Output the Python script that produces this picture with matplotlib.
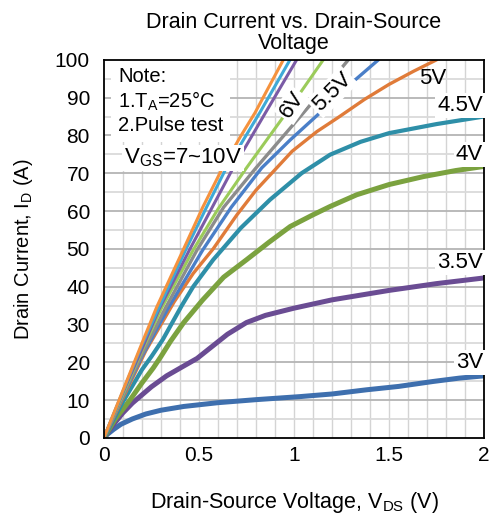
import numpy as np
import matplotlib
matplotlib.use("Agg")
import matplotlib.pyplot as plt

plt.rcParams['font.family'] = ['Liberation Sans', 'DejaVu Sans']

# Curves: VDS (V) vs ID (A)
vds_3v = [0, 0.02, 0.05, 0.09, 0.15, 0.22, 0.3, 0.42, 0.6, 0.8, 1.03, 1.2, 1.38, 1.55, 1.73, 1.87, 2.0]
id_3v = [0, 1.0, 2.2, 3.6, 5.0, 6.3, 7.3, 8.3, 9.3, 10.1, 10.9, 11.6, 12.7, 13.6, 14.9, 15.8, 16.4]

vds_35v = [0, 0.05, 0.1, 0.15, 0.25, 0.33, 0.42, 0.49, 0.56, 0.65, 0.75, 0.85, 1.0, 1.2, 1.5, 1.75, 2.0]
id_35v = [0, 3.5, 6.6, 9.2, 13.5, 16.4, 19.0, 21.0, 23.8, 27.4, 30.5, 32.4, 34.3, 36.5, 39, 40.8, 42.3]

vds_4v = [0, 0.06, 0.137, 0.2, 0.26, 0.3, 0.35, 0.42, 0.52, 0.63, 0.75, 0.87, 0.98,
          1.1, 1.19, 1.33, 1.5, 1.68, 1.85, 2.0]
id_4v = [0, 5, 10, 14.5, 18.5, 21.5, 25.5, 30.5, 36.5, 42.5, 47.1, 51.8, 55.9,
         59, 61.2, 64.3, 67, 69.1, 70.7, 71.8]

vds_45v = [0, 0.1, 0.2, 0.25, 0.31, 0.41, 0.47, 0.575, 0.72, 0.874, 1.04, 1.19,
           1.35, 1.5, 1.75, 2.0]
id_45v = [0, 9.5, 18, 21.5, 26, 35, 40, 47.1, 55.5, 63, 70, 74.9,
          78.3, 80.6, 83, 85]

vds_5v = [0, 0.1, 0.22, 0.37, 0.47, 0.575, 0.7, 0.8, 0.909, 0.99, 1.12, 1.24,
          1.37, 1.5, 1.63, 1.75]
id_5v = [0, 10.5, 23, 36, 43.5, 50, 59, 65.5, 71.4, 75.8, 81, 85,
         89.5, 93.5, 97, 100]

vds_55v = [0, 0.1, 0.2, 0.335, 0.52, 0.67, 0.83, 0.98, 1.137, 1.29, 1.444]
id_55v = [0, 11, 21.5, 34, 49.7, 61, 71.4, 78.8, 86, 93.3, 100]

vds_6v = [0, 0.1, 0.2, 0.32, 0.49, 0.63, 0.8, 0.93, 1.05, 1.17, 1.286]
id_6v = [0, 11.2, 22, 34, 49.7, 61, 71.4, 79, 86, 93, 100]

vds_7v = [0, 0.1, 0.2, 0.30, 0.47, 0.6, 0.75, 0.96, 1.154]
id_7v = [0, 11.5, 23, 34, 49.7, 60.5, 71.4, 86, 100]

vds_8v = [0, 0.1, 0.2, 0.29, 0.45, 0.57, 0.68, 0.85, 1.014]
id_8v = [0, 12, 23.5, 34, 49.7, 61, 71.4, 86, 100]

vds_9v = [0, 0.1, 0.2, 0.285, 0.43, 0.54, 0.64, 0.82, 0.979]
id_9v = [0, 12.3, 24.5, 34, 49.7, 61, 71, 86, 100]

vds_10v = [0, 0.1, 0.2, 0.277, 0.417, 0.52, 0.62, 0.716, 0.795, 0.944]
id_10v = [0, 12.5, 25, 34.5, 49.7, 61, 71, 79.5, 86, 100]

curves = [
    (vds_3v, id_3v, '#3E6FAE', 3.6),
    (vds_35v, id_35v, '#6A4C93', 3.6),
    (vds_4v, id_4v, '#7BA23F', 3.6),
    (vds_45v, id_45v, '#2E8FA8', 3.0),
    (vds_5v, id_5v, '#E07B39', 2.4),
    (vds_55v, id_55v, '#4A7FC8', 2.4),
    (vds_6v, id_6v, '#8C8C8C', 2.4),
    (vds_7v, id_7v, '#9BCB5A', 2.2),
    (vds_8v, id_8v, '#7B5BA6', 2.2),
    (vds_9v, id_9v, '#3FA9D6', 2.2),
    (vds_10v, id_10v, '#F5923E', 2.2),
]

fig = plt.figure(figsize=(4.9, 5.2), dpi=100)
ax = fig.add_axes([0.212, 0.158, 0.776, 0.727])

# grid
for gx in np.arange(0.1, 2.0, 0.1):
    ax.axvline(gx, color='#d4d4d4', lw=1.0, zorder=0)
for gy in np.arange(5, 100, 5):
    c = '#b4b4b4' if gy % 10 == 0 else '#dadada'
    ax.axhline(gy, color=c, lw=1.3, zorder=0)

for x, y, col, lw in curves:
    ax.plot(x, y, color=col, lw=lw, solid_capstyle='round', solid_joinstyle='round', zorder=2)

ax.set_xlim(0, 2)
ax.set_ylim(0, 100)
ax.set_xticks([0, 0.5, 1, 1.5, 2])
ax.set_xticklabels(['0', '0.5', '1', '1.5', '2'])
ax.set_yticks(np.arange(0, 101, 10))
ax.tick_params(length=0, labelsize=15)
ax.tick_params(axis='y', pad=10)
ax.tick_params(axis='x', pad=6)
for s in ax.spines.values():
    s.set_color('black')
    s.set_linewidth(1.3)

ax.set_title('Drain Current vs. Drain-Source\nVoltage', fontsize=15.5, pad=8, linespacing=1.0)
ax.set_xlabel('Drain-Source Voltage, V$_{\\mathregular{DS}}$ (V)', fontsize=15.5, labelpad=18)
ax.set_ylabel('Drain Current, I$_{\\mathregular{D}}$ (A)', fontsize=14.5, labelpad=14)

box = dict(facecolor='white', edgecolor='none', pad=1.5)
ax.text(0.075, 98, 'Note:\n1.T$_{\\mathregular{A}}$=25°C\n2.Pulse test', fontsize=14.5,
        va='top', ha='left', linespacing=1.2,
        bbox=dict(facecolor='white', edgecolor='none', pad=5), zorder=3)
ax.text(0.105, 74, 'V$_{\\mathregular{GS}}$=7~10V', fontsize=16, va='center', ha='left',
        bbox=box, zorder=3)
ax.text(0.99, 88, '6V', fontsize=16, rotation=55, va='center', ha='center', bbox=box, zorder=3)
ax.text(1.2, 91.5, '5.5V', fontsize=16, rotation=45, va='center', ha='center', bbox=box, zorder=3)
ax.text(1.73, 95, '5V', fontsize=16, va='center', ha='center', zorder=3)
ax.text(1.995, 88, '4.5V', fontsize=16, va='center', ha='right', bbox=box, zorder=3)
ax.text(1.995, 75, '4V', fontsize=16, va='center', ha='right', bbox=box, zorder=3)
ax.text(1.995, 46.5, '3.5V', fontsize=16, va='center', ha='right', bbox=box, zorder=3)
ax.text(1.995, 20, '3V', fontsize=16, va='center', ha='right', bbox=box, zorder=3)

fig.savefig('out.png', dpi=100)
